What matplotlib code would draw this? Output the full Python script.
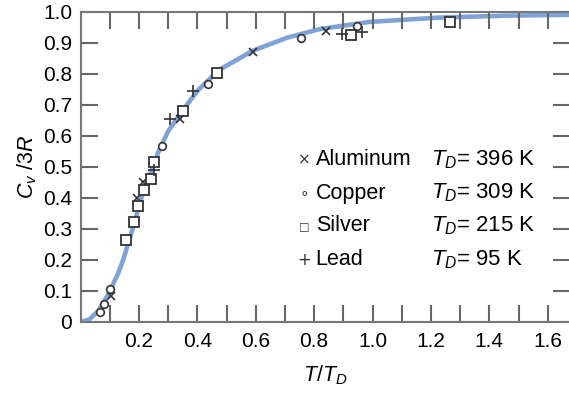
import matplotlib.pyplot as plt

plt.rcParams['font.family'] = 'Liberation Sans'
plt.rcParams['mathtext.fontset'] = 'custom'
plt.rcParams['mathtext.rm'] = 'Liberation Sans'
plt.rcParams['mathtext.it'] = 'Liberation Sans:italic'

# Debye curve
curve_x = [0, 0.03, 0.06, 0.094, 0.128, 0.146, 0.175, 0.21, 0.244, 0.265, 0.30,
           0.352, 0.40, 0.443, 0.478, 0.59, 0.707, 0.82, 0.99, 1.23, 1.45, 1.68]
curve_y = [0, 0.008, 0.035, 0.087, 0.155, 0.20, 0.29, 0.405, 0.49, 0.545, 0.615,
           0.685, 0.745, 0.785, 0.815, 0.875, 0.917, 0.945, 0.968, 0.982, 0.988, 0.991]

# measured points (T/T_D, Cv/3R)
al_x = [0.105, 0.192, 0.215, 0.341, 0.591, 0.841]
al_y = [0.085, 0.40, 0.45, 0.654, 0.871, 0.94]
cu_x = [0.066, 0.080, 0.102, 0.278, 0.435, 0.755, 0.946]
cu_y = [0.033, 0.058, 0.107, 0.567, 0.767, 0.915, 0.956]
ag_x = [0.156, 0.183, 0.198, 0.217, 0.240, 0.253, 0.352, 0.466, 0.925, 1.265]
ag_y = [0.263, 0.321, 0.373, 0.425, 0.462, 0.517, 0.680, 0.803, 0.926, 0.967]
pb_x = [0.250, 0.307, 0.386, 0.895, 0.963]
pb_y = [0.490, 0.654, 0.745, 0.929, 0.936]

names = ['Aluminum', 'Copper', 'Silver', 'Lead']
debye_T = [396, 309, 215, 95]
symbols = ['×', '∘', '□', '+']
sym_sizes = [11, 11, 8, 12]

fig = plt.figure(figsize=(5.69, 3.93), dpi=100)
ax = fig.add_axes([0.1415, 0.1807, 0.8611, 0.7888])

ax.plot(curve_x, curve_y, color='#7fa3d6', lw=3.3, solid_capstyle='round', zorder=1)

mk = dict(linestyle='none', color='#333333', zorder=3)
ax.plot(al_x, al_y, marker='x', ms=6, mew=1.2, **mk)
ax.plot(cu_x, cu_y, marker='o', ms=5.5, mew=1.2, mfc='white', **mk)
ax.plot(ag_x, ag_y, marker='s', ms=7.3, mew=1.3, mfc='white', **mk)
ax.plot(pb_x, pb_y, marker='+', ms=8, mew=1.2, **mk)

ax.set_xlim(0, 1.678)
ax.set_ylim(0, 1.0)
ax.set_xticks([i / 10 for i in range(1, 17)])
ax.set_xticklabels(['' if i % 2 else f'{i/10:.1f}' for i in range(1, 17)])
ax.set_yticks([i / 10 for i in range(0, 11)])
ax.set_yticklabels(['0'] + [f'{i/10:.1f}' for i in range(1, 11)])
ax.tick_params(direction='in', length=12, width=1.5, color='#666666',
               labelsize=15, top=True, right=True, pad=7)
ax.tick_params(axis='y', pad=6)
for s in ['top', 'left', 'bottom']:
    ax.spines[s].set_color('#777777')
    ax.spines[s].set_linewidth(1.5)
ax.spines['right'].set_visible(False)

ax.set_xlabel(r'$T/T_D$', fontsize=15.5, labelpad=9)
ax.set_ylabel(r'$C_v\ /3R$', fontsize=15.5, labelpad=3)

rows_y = [0.523, 0.416, 0.31, 0.20]
for name, td, sym, fs, yy in zip(names, debye_T, symbols, sym_sizes, rows_y):
    ax.text(0.456, yy, sym, transform=ax.transAxes, fontsize=fs, va='center', ha='center',
            color='#333333', family=['DejaVu Sans'])
    ax.text(0.480, yy, name, transform=ax.transAxes, fontsize=15.5, va='center')
    ax.text(0.716, yy, r'$T_D$' + f'= {td} K', transform=ax.transAxes, fontsize=16, va='center')

fig.savefig('out.png', dpi=100)
